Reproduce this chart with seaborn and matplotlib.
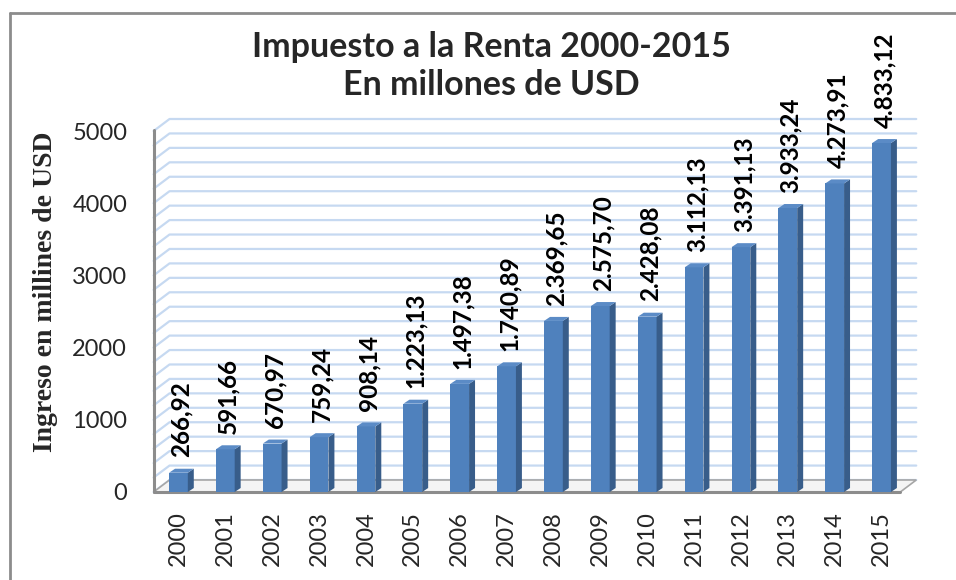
import matplotlib
matplotlib.use('Agg')
import matplotlib.pyplot as plt
import seaborn as sns
from matplotlib.patches import Polygon
from matplotlib.lines import Line2D

# datos: impuesto a la renta (millones de USD)
years = ['2000', '2001', '2002', '2003', '2004', '2005', '2006', '2007',
         '2008', '2009', '2010', '2011', '2012', '2013', '2014', '2015']
values = [266.92, 591.66, 670.97, 759.24, 908.14, 1223.13, 1497.38, 1740.89,
          2369.65, 2575.70, 2428.08, 3112.13, 3391.13, 3933.24, 4273.91, 4833.12]
yticks = [0, 1000, 2000, 3000, 4000, 5000]

title = 'Impuesto a la Renta 2000-2015\nEn millones de USD'
ylabel = 'Ingreso en millines de USD'

sns.set_style('white')
plt.rcParams['font.family'] = ['Lato', 'DejaVu Sans']

W, H = 956, 580
fig = plt.figure(figsize=(W / 100, H / 100), dpi=100)
ax = fig.add_axes([155 / W, (H - 492) / H, (905 - 155) / W, (492 - 131) / H])

blue = '#4f81bd'
side = '#385d8a'
top = '#5b8bc6'
grid_c = '#c6d9f1'

xmin, xmax = -0.53, 15.4
ymax = 5000
# profundidad de paredes y barras (en unidades de datos)
dx, dy = 16 / 47.07, 12 / 72.2 * 1000
bdx, bdy = 6 / 47.07, 4 / 72.2 * 1000

ax.set_xlim(xmin, xmax)
ax.set_ylim(0, ymax)

# pared del fondo y lateral: lineas de cuadricula
for v in range(0, ymax + 1, 200):
    ax.add_line(Line2D([xmin, xmin + dx, xmax + dx], [v, v + dy, v + dy],
                       color=grid_c, lw=1.6, clip_on=False, zorder=0))

# piso
floor = Polygon([[xmin, 0], [xmax, 0], [xmax + dx, dy], [xmin + dx, dy]],
                closed=True, facecolor='#f4f4f4', edgecolor='#a6a6a6',
                lw=1.2, clip_on=False, zorder=0.5)
ax.add_patch(floor)
ax.add_line(Line2D([xmin, xmax], [0, 0], color='#8c8c8c', lw=2.2,
                   clip_on=False, zorder=0.6))
ax.add_line(Line2D([xmin, xmin], [0, ymax + 20], color='#8c8c8c', lw=2.2,
                   clip_on=False, zorder=0.6))

sns.barplot(x=years, y=values, color=blue, width=0.40, saturation=1,
            edgecolor='none', ax=ax, zorder=2)

for p in ax.patches[1:]:
    x0 = p.get_x()
    w = p.get_width()
    h = p.get_height()
    ax.add_patch(Polygon([[x0 + w, 0], [x0 + w + bdx, bdy], [x0 + w + bdx, h + bdy], [x0 + w, h]],
                         closed=True, facecolor=side, edgecolor='none', zorder=2, clip_on=False))
    ax.add_patch(Polygon([[x0, h], [x0 + w, h], [x0 + w + bdx, h + bdy], [x0 + bdx, h + bdy]],
                         closed=True, facecolor=top, edgecolor='none', zorder=2, clip_on=False))

for i, v in enumerate(values):
    lab = f'{v:,.2f}'.replace(',', 'X').replace('.', ',').replace('X', '.')
    ax.annotate(lab, xy=(i, v), xytext=(2, 11), textcoords='offset points',
                rotation=90, ha='center', va='bottom', fontsize=17.5,
                fontweight='bold', color='black', annotation_clip=False)

ax.set_xlabel('')
ax.set_ylabel('')
ax.set_yticks(yticks)
ax.set_yticklabels([str(t) for t in yticks], fontsize=17)
ax.set_xticks(range(len(years)))
ax.set_xticklabels(years, rotation=90, fontsize=17)
ax.tick_params(axis='y', length=0, pad=20)
ax.tick_params(axis='x', length=0, pad=14)
for s in ax.spines.values():
    s.set_visible(False)
ax.patch.set_alpha(0)

fig.text(491 / W, 1 - 66 / H, title, ha='center', va='center', fontsize=24.5,
         fontweight='bold', linespacing=1.25)
fig.text(46 / W, 1 - 292 / H, ylabel, rotation=90, ha='center', va='center',
         fontsize=20, fontweight='bold', family='Liberation Serif')

# borde exterior (solo arriba e izquierda visibles)
fig.add_artist(Line2D([10 / W, 10 / W], [0, 1 - 13 / H], color='#8c8c8c', lw=2,
                      transform=fig.transFigure))
fig.add_artist(Line2D([10 / W, 1], [1 - 13 / H, 1 - 13 / H], color='#8c8c8c', lw=2,
                      transform=fig.transFigure))

fig.savefig('out.png', dpi=100)
